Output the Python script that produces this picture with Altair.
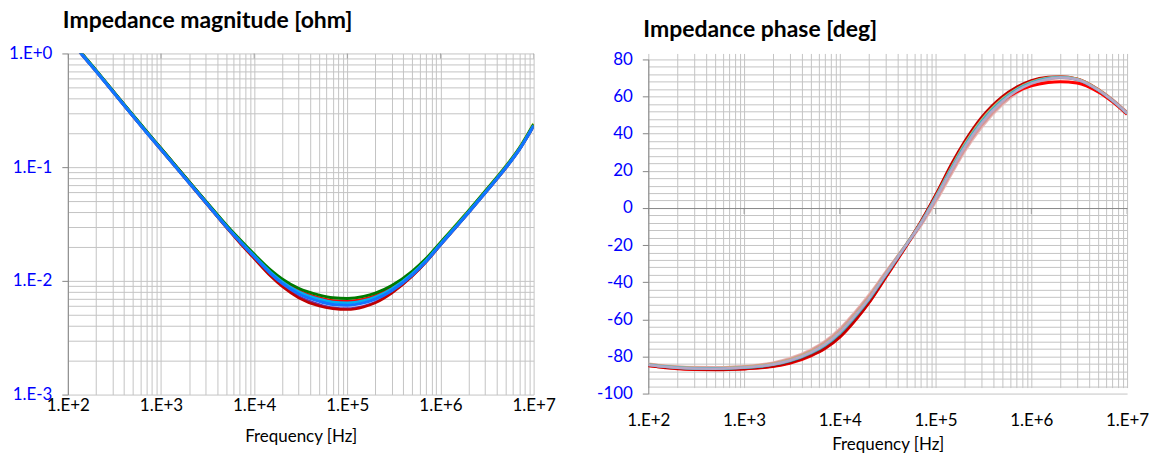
import altair as alt
import pandas as pd

# ---------------- data ----------------
freq = [1e2, 1.5e2, 2e2, 3e2, 5e2, 7e2,
        1e3, 1.5e3, 2e3, 3e3, 5e3, 7e3,
        1e4, 1.5e4, 2e4, 3e4, 5e4, 7e4,
        1e5, 1.5e5, 2e5, 3e5, 5e5, 7e5,
        1e6, 1.5e6, 2e6, 3e6, 5e6, 7e6,
        1e7]

# impedance magnitude [ohm]
mag_purple = [1.375, 0.922, 0.698, 0.467, 0.2805, 0.2015, 0.1425, 0.0962, 0.0727, 0.0490, 0.0298, 0.0218,
              0.0159, 0.0112, 0.0091, 0.0073, 0.0062, 0.0058, 0.0057, 0.0060, 0.0065, 0.0079, 0.0111, 0.0147,
              0.0207, 0.0302, 0.0397, 0.0589, 0.0978, 0.1418, 0.2295]
mag_darkred = [1.37, 0.92, 0.697, 0.466, 0.280, 0.201, 0.142, 0.0960, 0.0725, 0.0488, 0.0296, 0.0216,
               0.0157, 0.0110, 0.0089, 0.0071, 0.0060, 0.0057, 0.0056, 0.0059, 0.0064, 0.0078, 0.0110, 0.0146,
               0.0206, 0.0301, 0.0396, 0.0588, 0.0975, 0.1415, 0.2290]
mag_orange = [1.40, 0.94, 0.71, 0.475, 0.286, 0.205, 0.146, 0.0984, 0.0744, 0.0502, 0.0307, 0.0227,
              0.0167, 0.0120, 0.0099, 0.0081, 0.0070, 0.0066, 0.0065, 0.0068, 0.0073, 0.0086, 0.0117, 0.0152,
              0.0213, 0.0310, 0.0407, 0.0604, 0.0998, 0.1448, 0.2365]
mag_yellowgreen = [1.40, 0.94, 0.71, 0.474, 0.285, 0.205, 0.146, 0.0983, 0.0743, 0.0502, 0.0307, 0.0227,
                   0.0167, 0.0120, 0.0099, 0.0081, 0.0070, 0.0066, 0.0065, 0.0068, 0.0074, 0.0088, 0.0120, 0.0156,
                   0.0218, 0.0318, 0.0416, 0.0615, 0.1020, 0.1480, 0.2420]
mag_red = [1.40, 0.94, 0.71, 0.475, 0.286, 0.205, 0.146, 0.0985, 0.0745, 0.0503, 0.0308, 0.0228,
           0.0168, 0.0121, 0.0100, 0.0082, 0.0071, 0.0067, 0.0066, 0.0069, 0.0074, 0.0087, 0.0118, 0.0153,
           0.0214, 0.0311, 0.0408, 0.0605, 0.1000, 0.1450, 0.2370]
mag_darkgreen = [1.41, 0.945, 0.715, 0.478, 0.288, 0.207, 0.147, 0.0990, 0.0750, 0.0508, 0.0312, 0.0232,
                 0.0172, 0.0125, 0.0104, 0.0086, 0.0075, 0.0071, 0.0070, 0.0073, 0.0078, 0.0091, 0.0122, 0.0157,
                 0.0217, 0.0314, 0.0411, 0.0608, 0.1005, 0.1455, 0.2380]
mag_lightblue = [1.39, 0.93, 0.705, 0.471, 0.283, 0.203, 0.144, 0.0970, 0.0735, 0.0497, 0.0304, 0.0225,
                 0.0166, 0.0119, 0.0098, 0.0080, 0.0069, 0.0065, 0.0064, 0.0067, 0.0072, 0.0085, 0.0116, 0.0151,
                 0.0211, 0.0307, 0.0403, 0.0597, 0.0990, 0.1435, 0.2330]
mag_blue = [1.38, 0.925, 0.70, 0.468, 0.281, 0.202, 0.143, 0.0965, 0.0730, 0.0493, 0.0301, 0.0222,
            0.0163, 0.0116, 0.0095, 0.0077, 0.0066, 0.0062, 0.0061, 0.0064, 0.0069, 0.0082, 0.0113, 0.0148,
            0.0208, 0.0303, 0.0398, 0.0590, 0.0980, 0.1420, 0.2300]

# impedance phase [deg]
ph_pink = [-84.2, -85.2, -85.7, -86.0, -86.1, -85.9, -85.5, -84.6, -83.6, -81.2, -76.5, -72.0,
           -65.3, -55.3, -47.4, -35.0, -19.6, -9.3, 3.5, 19.6, 30.6, 43.5, 56.0, 62.0,
           66.5, 69.3, 70.3, 69.4, 63.8, 58.3, 51.3]
ph_salmon = [-84.3, -85.3, -85.8, -86.2, -86.3, -86.1, -85.7, -84.8, -83.9, -81.7, -77.0, -72.6,
             -66.0, -56.0, -48.1, -35.4, -19.4, -8.8, 4.3, 20.6, 31.6, 44.5, 56.8, 62.6,
             66.8, 69.4, 70.3, 69.3, 63.6, 58.1, 51.2]
ph_red = [-85.0, -86.0, -86.6, -87.0, -87.1, -87.0, -86.7, -86.1, -85.4, -83.6, -79.6, -75.7,
          -69.6, -59.6, -51.3, -37.6, -20.0, -8.0, 6.3, 23.5, 34.5, 47.0, 58.0, 62.6,
          65.8, 67.6, 68.0, 67.3, 62.5, 57.3, 50.5]
ph_darkred = [-84.9, -85.9, -86.4, -86.8, -87.0, -86.9, -86.6, -86.0, -85.2, -83.3, -79.3, -75.4,
              -69.3, -59.3, -51.0, -37.2, -19.6, -7.6, 6.8, 24.5, 35.5, 48.5, 60.0, 65.0,
              68.6, 70.4, 70.7, 69.5, 63.7, 58.1, 51.0]
ph_olive = [-84.4, -85.4, -85.9, -86.3, -86.4, -86.2, -85.8, -85.0, -84.1, -82.0, -77.5, -73.2,
            -66.8, -56.8, -48.9, -35.9, -19.3, -8.1, 5.8, 22.8, 34.0, 47.1, 58.8, 64.0,
            67.8, 70.0, 70.6, 69.5, 63.7, 58.1, 51.1]
ph_teal = [-84.5, -85.5, -86.0, -86.4, -86.5, -86.4, -86.1, -85.4, -84.5, -82.5, -78.2, -74.0,
           -67.6, -57.6, -49.6, -36.4, -19.6, -8.3, 5.5, 22.2, 33.3, 46.3, 58.2, 63.6,
           67.4, 69.8, 70.4, 69.2, 63.4, 57.9, 50.9]
ph_lavender = [-84.6, -85.6, -86.1, -86.5, -86.6, -86.4, -86.0, -85.2, -84.3, -82.2, -77.8, -73.5,
               -67.0, -57.0, -49.0, -36.0, -19.5, -8.5, 5.0, 21.5, 32.5, 45.5, 57.5, 63.0,
               67.0, 69.5, 70.3, 69.2, 63.5, 58.0, 51.0]

# axis ticks / gridlines
decades = [1e2, 1e3, 1e4, 1e5, 1e6, 1e7]
multipliers = [1, 2, 3, 4, 5, 6, 7, 8, 9]
mag_decades = [1e-3, 1e-2, 1e-1, 1.0]
phase_grid = list(range(-100, 81, 4))

x_grid = [d * m for d in decades[:-1] for m in multipliers] + [decades[-1]]
y_grid_mag = [d * m for d in mag_decades[:-1] for m in multipliers] + [mag_decades[-1]]

# ---------------- styles ----------------
mag_series = [
    ("a1", "#7030A0", 2.5, mag_purple),
    ("a2", "#C00000", 3.0, mag_darkred),
    ("a3", "#F79646", 2.0, mag_orange),
    ("a4", "#92D050", 2.5, mag_yellowgreen),
    ("a5", "#FF0000", 2.5, mag_red),
    ("a6", "#007A00", 3.0, mag_darkgreen),
    ("a7", "#00B0F0", 2.5, mag_lightblue),
    ("a8", "#1373FF", 3.0, mag_blue),
]
ph_series = [
    ("b1", "#E6B9B8", 3.5, ph_pink),
    ("b2", "#D99694", 2.5, ph_salmon),
    ("b3", "#FF0000", 2.0, ph_red),
    ("b4", "#C00000", 3.0, ph_darkred),
    ("b5", "#C3B16B", 2.0, ph_olive),
    ("b6", "#31B6C9", 2.0, ph_teal),
    ("b7", "#B3A7C8", 4.0, ph_lavender),
]


def long_table(series, xname, yname, sname):
    rows = []
    for name, _, _, vals in series:
        for f, v in zip(freq, vals):
            rows.append({xname: f, yname: v, sname: name})
    return pd.DataFrame(rows)


df_mag = long_table(mag_series, "fm", "mag", "sm")
df_ph = long_table(ph_series, "fp", "ph", "sp")

FONT = "Lato"
LBL = 17
GRID = "#C4C4C4"
AXIS = "#868686"
BLUE = "#0000FF"

major_log = "abs(log(datum.value)/LN10 - round(log(datum.value)/LN10)) < 0.001"
log_label = ("(abs(log(datum.value)/LN10 - round(log(datum.value)/LN10)) < 0.001) ? "
             "('1.E' + (round(log(datum.value)/LN10) >= 0 ? '+' : '') + round(log(datum.value)/LN10)) : ''")


def x_axis(label_pad, title_pad):
    return alt.Axis(values=x_grid, tickCount=500, grid=True, gridColor=GRID, gridWidth=1,
                    ticks=False, domain=False, labelExpr=log_label,
                    labelOverlap=False, labelFlush=False,
                    labelFont=FONT, labelFontSize=LBL, labelColor="#000000",
                    labelPadding=label_pad, title="Frequency [Hz]", titleFont=FONT,
                    titleFontSize=LBL, titleFontWeight="normal", titleColor="#000000",
                    titlePadding=title_pad)


# ---------------- left: magnitude ----------------
xs_l = alt.Scale(type="log", domain=[1e2, 1e7], nice=False)
ys_l = alt.Scale(type="log", domain=[1e-3, 1.0], nice=False)

y_axis_l = alt.Axis(values=y_grid_mag, tickCount=500, grid=True, gridColor=GRID, gridWidth=1,
                    domain=True, domainColor=AXIS,
                    ticks=True, tickColor=AXIS, tickSize=6,
                    tickOpacity={"condition": {"test": major_log, "value": 1}, "value": 0},
                    labelExpr=log_label, labelOverlap=False,
                    labelFont=FONT, labelFontSize=LBL, labelColor=BLUE, labelPadding=10,
                    title=None)

lines_l = alt.Chart(df_mag).mark_line(interpolate="monotone", clip=True).encode(
    x=alt.X("fm:Q", scale=xs_l, axis=x_axis(3, 15)),
    y=alt.Y("mag:Q", scale=ys_l, axis=y_axis_l),
    color=alt.Color("sm:N", scale=alt.Scale(domain=[s[0] for s in mag_series],
                                            range=[s[1] for s in mag_series]), legend=None),
    strokeWidth=alt.StrokeWidth("sm:N", scale=alt.Scale(domain=[s[0] for s in mag_series],
                                                        range=[s[2] for s in mag_series]), legend=None),
)
ticks_l = alt.Chart(pd.DataFrame({"fm": decades})).mark_tick(
    orient="vertical", size=10, thickness=1, color=AXIS, clip=True
).encode(x=alt.X("fm:Q", scale=xs_l), y=alt.datum(1.0))

left = alt.layer(lines_l, ticks_l).properties(
    width=467, height=342,
    title=alt.TitleParams("Impedance magnitude [ohm]", anchor="start", frame="group", font=FONT,
                          fontSize=23, fontWeight="bold", color="#000000", offset=12, dx=-5),
)

# ---------------- right: phase ----------------
# plot group is 341 px tall; the value range sits 6 px below its top, as in the reference
xs_r = alt.Scale(type="log", domain=[1e2, 1e7], nice=False)
ys_r = alt.Scale(type="linear", domain=[-100, 80], range=[341, 6], nice=False, zero=False)

y_axis_r = alt.Axis(values=phase_grid, tickCount=500, grid=True,
                    gridColor={"condition": {"test": "datum.value == 0", "value": AXIS}, "value": GRID},
                    gridWidth=1, domain=True, domainColor=AXIS,
                    ticks=True, tickColor=AXIS, tickSize=6,
                    tickOpacity={"condition": {"test": "datum.value % 20 == 0", "value": 1}, "value": 0},
                    labelExpr="datum.value % 20 == 0 ? ('' + datum.value) : ''", labelOverlap=False,
                    labelFont=FONT, labelFontSize=LBL, labelColor=BLUE, labelPadding=10,
                    title=None)

lines_r = alt.Chart(df_ph).mark_line(interpolate="monotone", clip=True).encode(
    x=alt.X("fp:Q", scale=xs_r, axis=x_axis(19, 8)),
    y=alt.Y("ph:Q", scale=ys_r, axis=y_axis_r),
    color=alt.Color("sp:N", scale=alt.Scale(domain=[s[0] for s in ph_series],
                                            range=[s[1] for s in ph_series]), legend=None),
    strokeWidth=alt.StrokeWidth("sp:N", scale=alt.Scale(domain=[s[0] for s in ph_series],
                                                        range=[s[2] for s in ph_series]), legend=None),
)
ticks_r = alt.Chart(pd.DataFrame({"fp": decades})).mark_tick(
    orient="vertical", size=6, thickness=1, color=AXIS, yOffset=3, clip=True
).encode(x=alt.X("fp:Q", scale=xs_r), y=alt.datum(0))

right = alt.layer(lines_r, ticks_r).properties(
    width=480, height=341,
    title=alt.TitleParams("Impedance phase [deg]", anchor="start", frame="group", font=FONT,
                          fontSize=23, fontWeight="bold", color="#000000", offset=12, dx=-5, dy=4),
)

chart = alt.hconcat(left, right, spacing=41).resolve_scale(
    x="independent", y="independent", color="independent", strokeWidth="independent"
).properties(
    padding={"left": 8, "top": 9, "right": 4, "bottom": 2},
    background="white",
).configure_view(stroke=None)

chart.save("out.html", embed_options={"renderer": "svg", "actions": False})
